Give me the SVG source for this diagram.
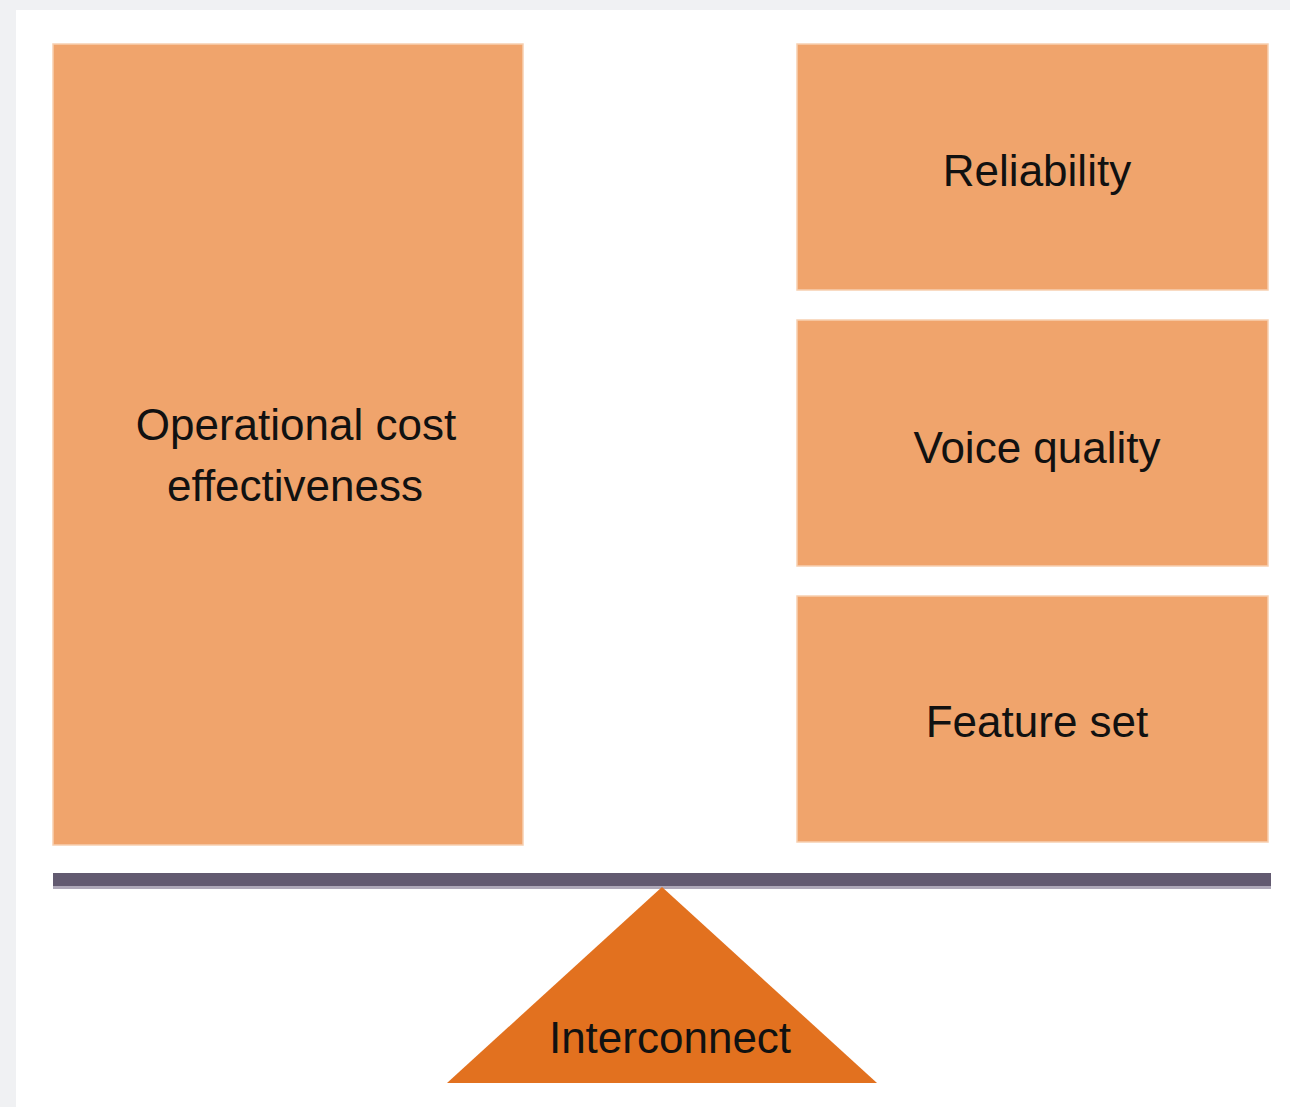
<svg xmlns="http://www.w3.org/2000/svg" width="1290" height="1107" viewBox="0 0 1290 1107">
  <style>
    .block { fill: #f0a46c; stroke: #f7cfb0; stroke-width: 1.5; }
    .label { font-family: "Liberation Sans", Arial, sans-serif; font-size: 44px; fill: #111; text-anchor: middle; }
  </style>
  <!-- page background and white panel -->
  <rect x="0" y="0" width="1290" height="1107" fill="#f0f1f3"/>
  <rect x="16" y="10" width="1274" height="1097" fill="#ffffff"/>

  <g id="cost">
    <rect class="block" x="53" y="44" width="470" height="801"/>
    <text class="label" x="296" y="440">Operational cost</text>
    <text class="label" x="295" y="501">effectiveness</text>
  </g>
  <g id="reliability">
    <rect class="block" x="797" y="44" width="471" height="246"/>
    <text class="label" x="1037" y="186">Reliability</text>
  </g>
  <g id="voice">
    <rect class="block" x="797" y="320" width="471" height="246"/>
    <text class="label" x="1037" y="463">Voice quality</text>
  </g>
  <g id="features">
    <rect class="block" x="797" y="596" width="471" height="246"/>
    <text class="label" x="1037" y="737">Feature set</text>
  </g>

  <!-- balance beam -->
  <g id="connectors">
    <rect x="53" y="873" width="1218" height="13" fill="#625a70"/>
    <rect x="53" y="886" width="1218" height="3" fill="#aea8b8"/>
  </g>

  <g id="interconnect">
    <polygon points="662,887 877,1083 447,1083" fill="#e2711f"/>
    <text class="label" x="670" y="1053">Interconnect</text>
  </g>
</svg>
